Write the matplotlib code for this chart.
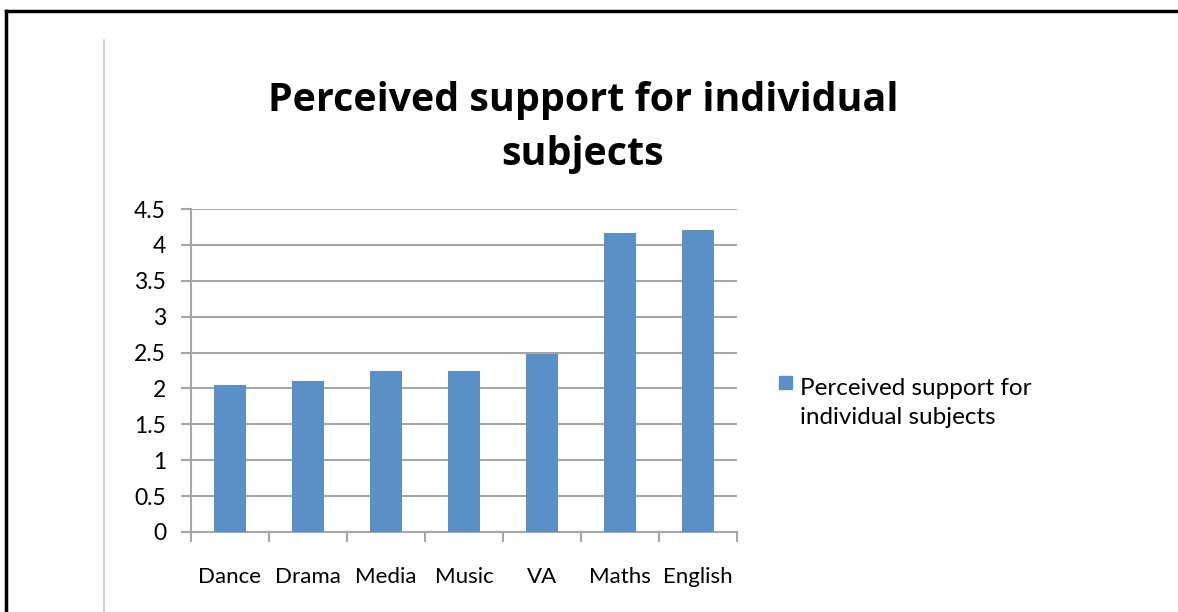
import matplotlib
matplotlib.use("Agg")
import matplotlib.pyplot as plt
from matplotlib.lines import Line2D
from matplotlib.patches import Rectangle

subjects = ["Dance", "Drama", "Media", "Music", "VA", "Maths", "English"]
support = [2.05, 2.11, 2.25, 2.25, 2.48, 4.16, 4.21]
y_ticks = [0, 0.5, 1, 1.5, 2, 2.5, 3, 3.5, 4, 4.5]
y_labels = ["0", "0.5", "1", "1.5", "2", "2.5", "3", "3.5", "4", "4.5"]
series_name = "Perceived support for\nindividual subjects"
title = "Perceived support for individual\nsubjects"

W, H = 1178, 612
bar_color = "#5B8FC7"
grid_color = "#A6A6A6"

plt.rcParams["font.family"] = ["Lato", "DejaVu Sans"]

fig = plt.figure(figsize=(W / 100, H / 100), dpi=100)
ax = fig.add_axes([191 / W, 1 - 532 / H, (737 - 191) / W, (532 - 209) / H])

x = list(range(len(subjects)))
ax.bar(x, support, width=0.4, color=bar_color, zorder=3)

ax.set_xlim(-0.5, len(subjects) - 0.5)
ax.set_ylim(0, 4.5)
ax.set_yticks(y_ticks)
ax.set_yticklabels(y_labels, fontsize=16.5)
ax.yaxis.grid(True, color=grid_color, linewidth=1.5, zorder=0)

# category boundaries carry the tick marks, names sit between them
ax.set_xticks([i - 0.5 for i in range(len(subjects) + 1)])
ax.set_xticklabels([])
ax.set_xticks(x, minor=True)
ax.set_xticklabels(subjects, minor=True, fontsize=16)
ax.tick_params(axis="x", which="major", length=7, width=1.5, color=grid_color)
ax.tick_params(axis="x", which="minor", length=0, pad=25)
ax.tick_params(axis="y", length=7, width=1.5, color=grid_color, pad=11)

for side in ["top", "right"]:
    ax.spines[side].set_visible(False)
for side in ["left", "bottom"]:
    ax.spines[side].set_color(grid_color)
    ax.spines[side].set_linewidth(1.5)

# baseline alignment puts the last line on y
fig.text(583 / W, 1 - 165 / H, title, ha="center", va="baseline",
         fontsize=28.4, fontweight="bold", linespacing=1.5,
         family=["Open Sans", "DejaVu Sans"])

# legend
fig.add_artist(Rectangle((779 / W, 1 - 389 / H), 13 / W, 13 / H,
                         transform=fig.transFigure, color=bar_color))
fig.text(800 / W, 1 - 424 / H, series_name, ha="left", va="baseline",
         fontsize=17.5, linespacing=1.48)

# frame lines
fig.add_artist(Line2D([104 / W, 104 / W], [0, 1 - 40 / H], color="#C8C8C8", linewidth=1.2))
fig.add_artist(Line2D([6 / W, 1], [1 - 11 / H, 1 - 11 / H], color="black", linewidth=2.5))
fig.add_artist(Line2D([6 / W, 6 / W], [0, 1 - 11 / H], color="black", linewidth=2.5))

fig.savefig("out.png", dpi=100)
